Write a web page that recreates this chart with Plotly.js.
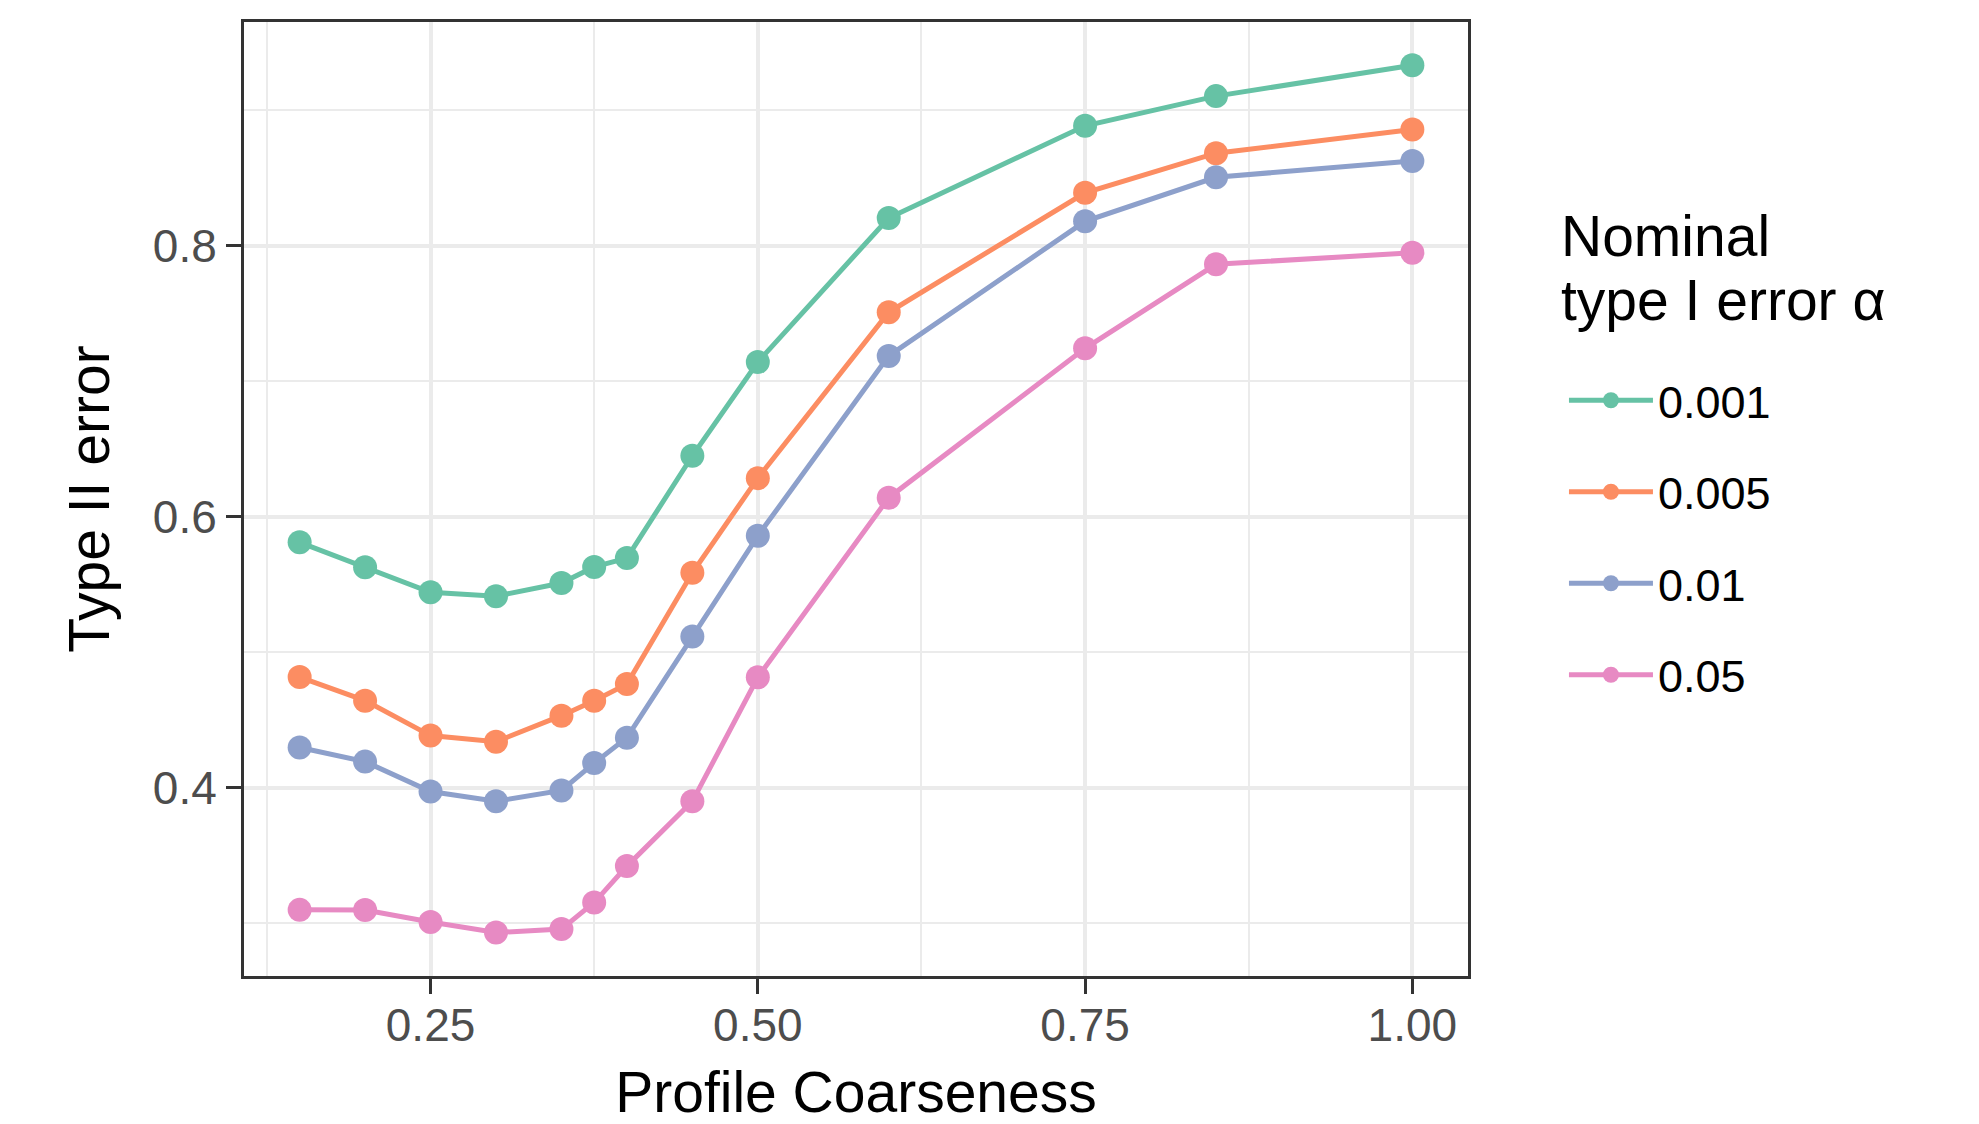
<!DOCTYPE html>
<html>
<head>
<meta charset="utf-8">
<script src="https://cdn.plot.ly/plotly-3.0.1.min.js"></script>
<style>html,body{margin:0;padding:0;background:#fff;}#chart{width:1979px;height:1124px;}</style>
</head>
<body>
<div id="chart"></div>
<script>
const coarseness = [0.15, 0.2, 0.25, 0.3, 0.35, 0.375, 0.4, 0.45, 0.5, 0.6, 0.75, 0.85, 1.0];
const seriesNames = ["0.001", "0.005", "0.01", "0.05"];
const err_a001 = [0.581, 0.5627, 0.5442, 0.5413, 0.551, 0.5629, 0.5694, 0.6449, 0.7141, 0.8204, 0.8884, 0.9103, 0.9331];
const err_a005 = [0.4816, 0.4642, 0.4384, 0.4339, 0.4531, 0.4641, 0.4764, 0.5585, 0.6284, 0.7508, 0.839, 0.8682, 0.8857];
const err_a01  = [0.4296, 0.4192, 0.3971, 0.3899, 0.3979, 0.4181, 0.4369, 0.5115, 0.5858, 0.7186, 0.8179, 0.8504, 0.8625];
const err_a05  = [0.3098, 0.3097, 0.3008, 0.2931, 0.2956, 0.3152, 0.3421, 0.3899, 0.4814, 0.614, 0.7242, 0.7862, 0.7947];
const xTickVals = [0.25, 0.5, 0.75, 1.0];
const xTickText = ["0.25", "0.50", "0.75", "1.00"];
const yTickVals = [0.4, 0.6, 0.8];
const yTickText = ["0.4", "0.6", "0.8"];
const legendTitleLines = ["Nominal", "type I error α"];

const colors = ["#66C2A5", "#FC8D62", "#8DA0CB", "#E78AC3"];
const allSeries = [err_a001, err_a005, err_a01, err_a05];
const FONT = "Liberation Sans, Arial, Helvetica, sans-serif";

const traces = allSeries.map((ys, i) => ({
  type: "scatter",
  mode: "lines+markers",
  x: coarseness,
  y: ys,
  name: seriesNames[i],
  legendgroup: "g" + i,
  line: {color: colors[i], width: 5},
  marker: {color: colors[i], size: 24},
  hoverinfo: "x+y+name"
}));

const layout = {
  width: 1979,
  height: 1124,
  paper_bgcolor: "#ffffff",
  plot_bgcolor: "#ffffff",
  margin: {l: 244, r: 511, t: 22, b: 148, pad: 0},
  font: {family: FONT, color: "#000000"},
  xaxis: {
    range: [0.1075, 1.0425],
    tickmode: "array",
    tickvals: xTickVals,
    ticktext: xTickText,
    ticks: "outside",
    ticklen: 15,
    tickwidth: 3,
    tickcolor: "#333333",
    ticklabelstandoff: -8,
    tickfont: {family: FONT, size: 46, color: "#4D4D4D"},
    showgrid: true,
    gridcolor: "#EBEBEB",
    gridwidth: 4,
    minor: {tickvals: [0.125, 0.375, 0.625, 0.875], showgrid: true, gridcolor: "#EBEBEB", gridwidth: 2},
    zeroline: false,
    showline: true,
    mirror: true,
    linecolor: "#333333",
    linewidth: 3,
    title: {text: "Profile Coarseness", font: {family: FONT, size: 57, color: "#000000"}, standoff: 27}
  },
  yaxis: {
    range: [0.261, 0.965],
    tickmode: "array",
    tickvals: yTickVals,
    ticktext: yTickText,
    ticks: "outside",
    ticklen: 15,
    tickwidth: 3,
    tickcolor: "#333333",
    ticklabelstandoff: 0,
    tickfont: {family: FONT, size: 46, color: "#4D4D4D"},
    showgrid: true,
    gridcolor: "#EBEBEB",
    gridwidth: 4,
    minor: {tickvals: [0.3, 0.5, 0.7, 0.9], showgrid: true, gridcolor: "#EBEBEB", gridwidth: 2},
    zeroline: false,
    showline: true,
    mirror: true,
    linecolor: "#333333",
    linewidth: 3,
    title: {text: "Type II error", font: {family: FONT, size: 57, color: "#000000"}, standoff: 25}
  },
  showlegend: true,
  legend: {
    x: 1.0784,
    xanchor: "left",
    y: 0.641,
    yanchor: "top",
    traceorder: "grouped",
    tracegroupgap: 30,
    itemwidth: 84,
    itemsizing: "trace",
    font: {family: FONT, size: 45, color: "#000000"},
    bgcolor: "rgba(0,0,0,0)",
    borderwidth: 0
  },
  annotations: [
    {xref: "paper", yref: "paper", x: 1.074, y: 0.7757, xanchor: "left", yanchor: "middle",
     text: legendTitleLines[0], showarrow: false, font: {family: FONT, size: 57, color: "#000000"}},
    {xref: "paper", yref: "paper", x: 1.074, y: 0.7086, xanchor: "left", yanchor: "middle",
     text: legendTitleLines[1], showarrow: false, font: {family: FONT, size: 57, color: "#000000"}}
  ]
};

Plotly.newPlot("chart", traces, layout, {displayModeBar: false, staticPlot: true});
</script>
</body>
</html>
